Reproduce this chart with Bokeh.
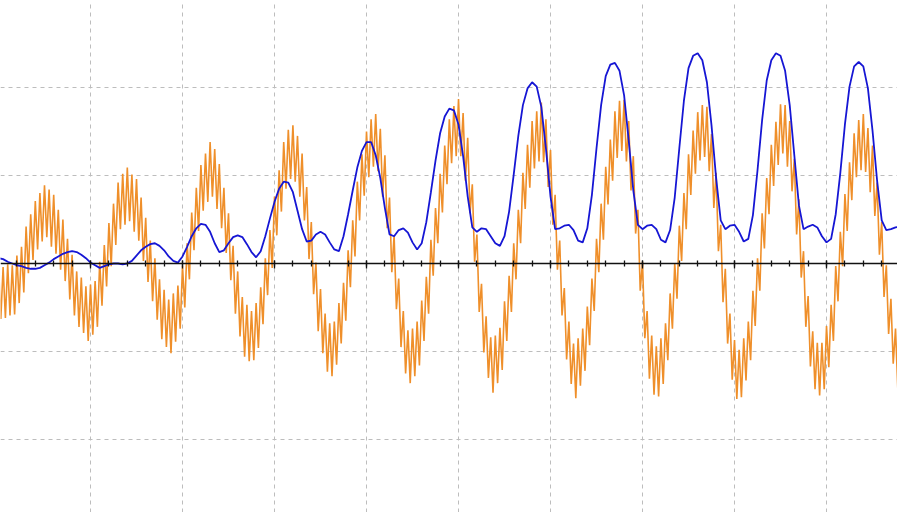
from bokeh.plotting import figure
from bokeh.models import FixedTicker, Range1d
from bokeh.embed import file_html
from bokeh.resources import INLINE

# orange signal: two samples per time unit (index k -> time k/2)
orange = [
    -0.01, -0.63, -0.04, -0.62, -0.01, -0.59, -0.02, -0.58, 0.09, -0.45,
    0.19, -0.33, 0.42, -0.11, 0.56, 0.04, 0.71, 0.16, 0.80, 0.25,
    0.89, 0.30, 0.84, 0.19, 0.78, 0.11, 0.61, -0.07, 0.50, -0.20,
    0.28, -0.41, 0.10, -0.59, -0.09, -0.72, -0.16, -0.79, -0.26, -0.88,
    -0.24, -0.81, -0.20, -0.72, 0.02, -0.48, 0.21, -0.26, 0.46, -0.03,
    0.68, 0.21, 0.92, 0.39, 1.02, 0.44, 1.09, 0.48, 1.01, 0.36,
    0.96, 0.26, 0.75, 0.03, 0.52, -0.21, 0.26, -0.43, 0.06, -0.64,
    -0.18, -0.86, -0.30, -0.95, -0.41, -1.02, -0.34, -0.89, -0.25, -0.74,
    -0.03, -0.50, 0.23, -0.18, 0.58, 0.15, 0.86, 0.37, 1.12, 0.60,
    1.25, 0.70, 1.38, 0.76, 1.30, 0.62, 1.13, 0.40, 0.86, 0.12,
    0.57, -0.19, 0.20, -0.57, -0.09, -0.83, -0.38, -1.06, -0.47, -1.11,
    -0.54, -1.10, -0.45, -0.96, -0.27, -0.69, 0.06, -0.36, 0.38, -0.05,
    0.76, 0.32, 1.06, 0.59, 1.38, 0.85, 1.52, 0.96, 1.57, 0.93,
    1.45, 0.76, 1.25, 0.49, 0.87, 0.05, 0.47, -0.35, 0.01, -0.77,
    -0.29, -1.02, -0.57, -1.23, -0.68, -1.28, -0.66, -1.15, -0.45, -0.91,
    -0.22, -0.65, 0.15, -0.27, 0.49, 0.08, 0.93, 0.49, 1.24, 0.77,
    1.50, 0.98, 1.64, 1.10, 1.70, 1.05, 1.53, 0.76, 1.23, 0.40,
    0.75, -0.10, 0.32, -0.52, -0.17, -0.95, -0.54, -1.25, -0.76, -1.36,
    -0.74, -1.28, -0.66, -1.16, -0.42, -0.88, -0.15, -0.57, 0.27, -0.14,
    0.63, 0.23, 1.02, 0.58, 1.34, 0.90, 1.64, 1.14, 1.79, 1.22,
    1.87, 1.22, 1.71, 0.94, 1.43, 0.57, 0.90, 0.02, 0.33, -0.55,
    -0.23, -1.01, -0.60, -1.30, -0.84, -1.47, -0.82, -1.36, -0.73, -1.21,
    -0.43, -0.88, -0.14, -0.55, 0.23, -0.18, 0.61, 0.23, 1.03, 0.62,
    1.35, 0.86, 1.62, 1.08, 1.73, 1.16, 1.83, 1.15, 1.64, 0.87,
    1.29, 0.44, 0.78, -0.07, 0.26, -0.59, -0.28, -1.09, -0.66, -1.37,
    -0.91, -1.53, -0.85, -1.39, -0.74, -1.22, -0.49, -0.93, -0.17, -0.54,
    0.28, -0.10, 0.68, 0.27, 1.10, 0.67, 1.41, 0.94, 1.73, 1.20,
    1.85, 1.28, 1.86, 1.16, 1.62, 0.83, 1.22, 0.34, 0.61, -0.31,
    0.02, -0.85, -0.54, -1.31, -0.82, -1.49, -0.94, -1.51, -0.85, -1.37,
    -0.68, -1.10, -0.34, -0.74, 0.00, -0.40, 0.43, 0.03, 0.80, 0.39,
    1.24, 0.78, 1.51, 1.02, 1.72, 1.17, 1.80, 1.21, 1.78, 1.05,
    1.47, 0.63, 1.03, 0.14, 0.44, -0.44, -0.06, -0.91, -0.57, -1.32,
    -0.87, -1.54, -0.98, -1.52, -0.85, -1.33, -0.66, -1.10, -0.31, -0.71,
    0.06, -0.31, 0.57, 0.17, 0.97, 0.56, 1.35, 0.88, 1.61, 1.12,
    1.81, 1.25, 1.80, 1.10, 1.62, 0.82, 1.19, 0.33, 0.73, -0.16,
    0.14, -0.72, -0.37, -1.17, -0.77, -1.43, -0.90, -1.50, -0.90, -1.43,
    -0.71, -1.18, -0.47, -0.88, -0.03, -0.43, 0.36, -0.03, 0.79, 0.37,
    1.15, 0.72, 1.48, 0.98, 1.63, 1.06, 1.70, 1.04, 1.54, 0.81,
    1.34, 0.54, 0.92, 0.10, 0.47, -0.38, -0.02, -0.80, -0.40, -1.14,
    -0.74, -1.43, -0.89]

# blue signal: one sample per time unit
blue = [0.06, 0.05, 0.02, 0.00, -0.02, -0.03, -0.05, -0.06, -0.06, -0.05,
        -0.02, 0.01, 0.05, 0.08, 0.11, 0.13, 0.14, 0.13, 0.10, 0.06,
        0.01, -0.02, -0.05, -0.03, -0.01, 0.00, 0.00, -0.01, 0.00, 0.03,
        0.09, 0.15, 0.19, 0.22, 0.23, 0.20, 0.15, 0.08, 0.03, 0.01,
        0.08, 0.19, 0.31, 0.40, 0.45, 0.44, 0.36, 0.23, 0.13, 0.15,
        0.23, 0.30, 0.32, 0.30, 0.22, 0.13, 0.07, 0.14, 0.31, 0.51,
        0.70, 0.85, 0.93, 0.92, 0.81, 0.60, 0.39, 0.25, 0.26, 0.33,
        0.36, 0.33, 0.24, 0.16, 0.14, 0.31, 0.56, 0.83, 1.09, 1.28,
        1.38, 1.38, 1.23, 0.97, 0.63, 0.33, 0.31, 0.38, 0.40, 0.35,
        0.24, 0.16, 0.23, 0.47, 0.81, 1.17, 1.48, 1.67, 1.76, 1.74,
        1.58, 1.22, 0.76, 0.41, 0.36, 0.40, 0.39, 0.31, 0.23, 0.20,
        0.31, 0.59, 1.01, 1.45, 1.80, 1.99, 2.06, 2.01, 1.78, 1.31,
        0.76, 0.39, 0.40, 0.43, 0.44, 0.38, 0.26, 0.24, 0.40, 0.78,
        1.31, 1.80, 2.13, 2.26, 2.28, 2.19, 1.91, 1.40, 0.83, 0.44,
        0.39, 0.43, 0.44, 0.39, 0.27, 0.24, 0.38, 0.75, 1.31, 1.85,
        2.22, 2.36, 2.39, 2.31, 2.06, 1.57, 0.97, 0.49, 0.39, 0.43,
        0.44, 0.36, 0.25, 0.28, 0.55, 1.06, 1.63, 2.08, 2.31, 2.39,
        2.36, 2.19, 1.80, 1.23, 0.66, 0.39, 0.42, 0.44, 0.41, 0.31,
        0.24, 0.28, 0.56, 1.03, 1.58, 2.01, 2.24, 2.29, 2.24, 1.99,
        1.51, 0.94, 0.49, 0.38, 0.39, 0.41, 0.42]

x_major_ticks = [20, 40, 60, 80, 100, 120, 140, 160, 180]
x_minor_ticks = list(range(0, 200, 4))
y_grid_ticks = [-2, -1, 1, 2]

x_orange = [k / 2 for k in range(len(orange))]
x_blue = list(range(len(blue)))

p = figure(width=897, height=512,
           x_range=Range1d(0.435, 195.43), y_range=Range1d(-2.83, 2.989),
           output_backend="svg", toolbar_location=None, min_border=0)
p.outline_line_color = None
p.background_fill_color = "white"
p.border_fill_color = "white"

p.line(x_orange, orange, line_color="#ef8f2a", line_width=1.6)
p.line(x_blue, blue, line_color="#1616d4", line_width=1.8)

ax = p.xaxis[0]
ax.fixed_location = 0
ax.ticker = FixedTicker(ticks=x_major_ticks, minor_ticks=x_minor_ticks)
ax.major_label_text_font_size = "0px"
ax.axis_line_color = "#111111"
ax.axis_line_width = 1.6
ax.major_tick_line_color = "#111111"
ax.minor_tick_line_color = "#111111"
ax.major_tick_line_width = 1.3
ax.minor_tick_line_width = 1.3
ax.major_tick_in = 3
ax.major_tick_out = 5
ax.minor_tick_in = 3
ax.minor_tick_out = 3

p.yaxis.visible = False

p.xgrid.grid_line_color = "#bdbdbd"
p.xgrid.grid_line_dash = "4 4"
p.xgrid.grid_line_width = 1
p.ygrid.ticker = FixedTicker(ticks=y_grid_ticks)
p.ygrid.grid_line_color = "#bdbdbd"
p.ygrid.grid_line_dash = "4 4"
p.ygrid.grid_line_width = 1

open("out.html", "w").write(file_html(p, INLINE))
